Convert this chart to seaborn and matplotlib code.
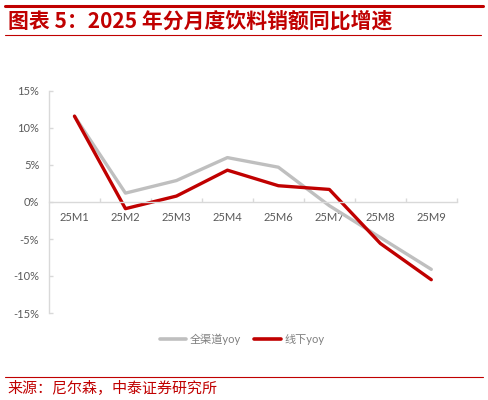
import pandas as pd
import matplotlib
matplotlib.use("Agg")
import matplotlib.pyplot as plt
import seaborn as sns
from matplotlib.lines import Line2D
from matplotlib.ticker import FixedLocator, FuncFormatter

# data (percent)
months = ["25M1", "25M2", "25M3", "25M4", "25M6", "25M7", "25M8", "25M9"]
all_channel = [11.6, 1.2, 2.9, 6.0, 4.7, -0.5, -4.8, -9.1]
offline = [11.6, -0.9, 0.8, 4.3, 2.2, 1.7, -5.6, -10.5]
series_names = ["全渠道yoy", "线下yoy"]
colors = ["#BFBFBF", "#C00000"]

df = pd.DataFrame({
    "month": months * 2,
    "yoy": all_channel + offline,
    "series": [series_names[0]] * len(months) + [series_names[1]] * len(months),
})

sns.set_style("white")
plt.rcParams["font.family"] = ["Lato", "Noto Sans CJK SC", "DejaVu Sans"]
plt.rcParams["axes.unicode_minus"] = False

fig = plt.figure(figsize=(4.88, 4.0), dpi=100)
ax = fig.add_axes([0.1004, 0.2175, 0.8356, 0.555])

sns.lineplot(data=df, x="month", y="yoy", hue="series", palette=colors,
             linewidth=2.4, ax=ax, sort=False, legend=False)

ax.set_xlim(-0.5, len(months) - 0.5)
ax.set_ylim(-15, 15)
ax.set_yticks(range(-15, 16, 5))
ax.yaxis.set_major_formatter(FuncFormatter(lambda v, p: f"{v:.0f}%"))
ax.set_xlabel("")
ax.set_ylabel("")

# axes styling, excel-like
for s in ["top", "right"]:
    ax.spines[s].set_visible(False)
ax.spines["left"].set_color("#D9D9D9")
ax.spines["bottom"].set_color("#D9D9D9")
ax.spines["bottom"].set_position(("data", 0))
for s in ["left", "bottom"]:
    ax.spines[s].set_linewidth(1.0)

ax.xaxis.set_minor_locator(FixedLocator([i + 0.5 for i in range(len(months))]))
ax.tick_params(axis="x", which="major", length=0, pad=7, labelsize=8, labelcolor="#595959")
ax.tick_params(axis="x", which="minor", direction="in", length=3, width=1, color="#D9D9D9", bottom=True)
ax.tick_params(axis="y", direction="in", length=3, width=1, color="#D9D9D9", pad=7,
               labelsize=8, labelcolor="#595959", left=True)

handles = [Line2D([0], [0], color=c, lw=2.6) for c in colors]
fig.legend(handles, series_names, loc="center", bbox_to_anchor=(0.496, 0.152),
           ncol=2, frameon=False, fontsize=8, handlelength=2.4, handletextpad=0.3,
           columnspacing=1.2, labelcolor="#7F7F7F")

# header / footer
red = "#C00000"
fig.add_artist(Line2D([0.01, 0.99], [0.984, 0.984], color=red, lw=2.2))
fig.add_artist(Line2D([0.01, 0.985], [0.912, 0.912], color=red, lw=0.8))
fig.text(0.016, 0.948, "图表 5：2025 年分月度饮料销额同比增速", color=red,
         fontsize=15, fontweight="bold", style="italic", va="center", ha="left",
         family=["Noto Sans CJK SC", "DejaVu Sans"])
fig.add_artist(Line2D([0.01, 0.99], [0.058, 0.058], color=red, lw=0.8))
fig.text(0.016, 0.03, "来源：尼尔森，中泰证券研究所", color=red, fontsize=10.8,
         va="center", ha="left", family=["Noto Sans CJK SC", "DejaVu Sans"])

fig.savefig("out.png", dpi=100)
